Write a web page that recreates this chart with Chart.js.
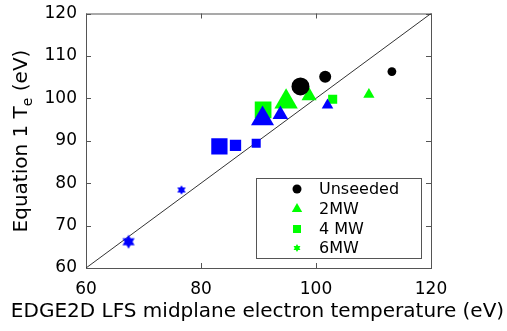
<!DOCTYPE html>
<html>
<head>
<meta charset="utf-8">
<script src="https://cdn.jsdelivr.net/npm/chart.js@4/dist/chart.umd.min.js"></script>
<style>
  body { margin: 0; background: #fff; }
  #wrap { width: 507px; height: 331px; }
</style>
</head>
<body>
<div id="wrap"><canvas id="teChart" width="507" height="331"></canvas></div>
<script>
// values
const unseededX = [97.3, 101.6, 113.2];
const unseededY = [102.8, 105.1, 106.3];

const mw2X = [94.8, 98.8, 109.2];
const mw2Y = [99.2, 100.6, 100.9];

const mw4X = [90.8, 102.9];
const mw4Y = [97.3, 99.8];

// blue markers (second case, same shape coding)
const blueTriX = [90.7, 93.8, 102.0];
const blueTriY = [95.2, 96.2, 98.4];
const blueSqX = [83.2, 86.0, 89.6];
const blueSqY = [88.7, 88.9, 89.4];
const blueStarX = [67.4, 76.6];
const blueStarY = [66.2, 78.4];

const xTicks = [60, 80, 100, 120];
const yTicks = [60, 70, 80, 90, 100, 110, 120];
const legendNames = ['Unseeded', '2MW', '4 MW', '6MW'];

const GREEN = '#00ff00';
const BLUE = '#0000ff';
const FONT = '"DejaVu Sans", sans-serif';

function toPoints(xs, ys) {
  return xs.map((x, i) => ({ x: x, y: ys[i] }));
}

// six point star (two triangles)
function starPath(ctx, x, y, r) {
  ctx.beginPath();
  for (let k = 0; k < 2; k++) {
    const off = k === 0 ? -Math.PI / 2 : Math.PI / 2;
    for (let j = 0; j < 3; j++) {
      const a = off + j * 2 * Math.PI / 3;
      const px = x + r * Math.cos(a), py = y + r * Math.sin(a);
      if (j === 0) ctx.moveTo(px, py); else ctx.lineTo(px, py);
    }
    ctx.closePath();
  }
}

function makeStar(r, color) {
  const c = document.createElement('canvas');
  const s = Math.ceil(2 * r + 2);
  c.width = s; c.height = s;
  const g = c.getContext('2d');
  g.fillStyle = color;
  starPath(g, s / 2, s / 2, r);
  g.fill('nonzero');
  return c;
}

function drawMarker(ctx, style, x, y, r, color) {
  ctx.fillStyle = color;
  if (style === 'circle') {
    ctx.beginPath(); ctx.arc(x, y, r, 0, Math.PI * 2); ctx.fill();
  } else if (style === 'triangle') {
    ctx.beginPath();
    ctx.moveTo(x, y - r);
    ctx.lineTo(x + r * 0.866, y + r * 0.5);
    ctx.lineTo(x - r * 0.866, y + r * 0.5);
    ctx.closePath(); ctx.fill();
  } else if (style === 'rect') {
    ctx.fillRect(x - r, y - r, 2 * r, 2 * r);
  } else {
    starPath(ctx, x, y, r); ctx.fill();
  }
}

const framePlugin = {
  id: 'frame',
  beforeDatasetsDraw(chart) {
    const ctx = chart.ctx;
    const a = chart.chartArea;
    const xs = chart.scales.x, ys = chart.scales.y;
    ctx.save();
    ctx.strokeStyle = '#555';
    ctx.lineWidth = 1;
    ctx.strokeRect(a.left + 0.5, a.top + 0.5, a.right - a.left, a.bottom - a.top);
    ctx.beginPath();
    xTicks.forEach(v => {
      const px = Math.round(xs.getPixelForValue(v)) + 0.5;
      ctx.moveTo(px, a.bottom); ctx.lineTo(px, a.bottom - 5);
      ctx.moveTo(px, a.top); ctx.lineTo(px, a.top + 5);
    });
    yTicks.forEach(v => {
      const py = Math.round(ys.getPixelForValue(v)) + 0.5;
      ctx.moveTo(a.left, py); ctx.lineTo(a.left + 5, py);
      ctx.moveTo(a.right, py); ctx.lineTo(a.right - 5, py);
    });
    ctx.stroke();
    ctx.restore();
  },
  afterDraw(chart) {
    const ctx = chart.ctx;
    const a = chart.chartArea;
    ctx.save();
    ctx.fillStyle = '#000';
    // x axis title
    ctx.font = '20px ' + FONT;
    ctx.textAlign = 'center';
    ctx.textBaseline = 'middle';
    ctx.fillText('EDGE2D LFS midplane electron temperature (eV)', (a.left + a.right) / 2 - 1, 312);

    // y axis title with subscript
    ctx.translate(20, 141);
    ctx.rotate(-Math.PI / 2);
    ctx.textBaseline = 'alphabetic';
    ctx.textAlign = 'left';
    const p1 = 'Equation 1 T', p2 = 'e', p3 = ' (eV)';
    ctx.font = '20px ' + FONT;
    const w1 = ctx.measureText(p1).width, w3 = ctx.measureText(p3).width;
    ctx.font = '14px ' + FONT;
    const w2 = ctx.measureText(p2).width;
    let x0 = -(w1 + w2 + w3) / 2;
    const base = 7;
    ctx.font = '20px ' + FONT;
    ctx.fillText(p1, x0, base);
    ctx.font = '14px ' + FONT;
    ctx.fillText(p2, x0 + w1, base + 5);
    ctx.font = '20px ' + FONT;
    ctx.fillText(p3, x0 + w1 + w2, base);
    ctx.restore();

    // legend box
    ctx.save();
    const lx = 256, ly = 178, lw = 165, lh = 80;
    ctx.fillStyle = '#fff';
    ctx.fillRect(lx, ly, lw, lh);
    ctx.strokeStyle = '#555';
    ctx.lineWidth = 1;
    ctx.strokeRect(lx + 0.5, ly + 0.5, lw, lh);
    const rows = [189, 209, 229, 248];
    const styles = ['circle', 'triangle', 'rect', 'star'];
    const colors = ['#000', GREEN, GREEN, GREEN];
    const sizes = [4.5, 6, 4, 4];
    ctx.font = '16px ' + FONT;
    ctx.textBaseline = 'middle';
    ctx.textAlign = 'left';
    legendNames.forEach((name, i) => {
      drawMarker(ctx, styles[i], 297, rows[i], sizes[i], colors[i]);
      ctx.fillStyle = '#000';
      ctx.fillText(name, 319, rows[i] + 1);
    });
    ctx.restore();
  }
};

const ctx = document.getElementById('teChart').getContext('2d');

new Chart(ctx, {
  type: 'scatter',
  data: {
    datasets: [
      {
        label: 'Unseeded',
        data: toPoints(unseededX, unseededY),
        pointStyle: 'circle',
        pointRadius: [9, 6, 4.4],
        backgroundColor: '#000',
        borderWidth: 0
      },
      {
        label: 'Blue triangles',
        data: toPoints(blueTriX, blueTriY),
        pointStyle: 'triangle',
        pointRadius: [13.3, 9, 6.7],
        backgroundColor: BLUE,
        borderWidth: 0
      },
      {
        label: 'Blue squares',
        data: toPoints(blueSqX, blueSqY),
        pointStyle: 'rect',
        pointRadius: [11.5, 8, 6.4],
        backgroundColor: BLUE,
        borderWidth: 0
      },
      {
        label: 'Blue stars',
        data: toPoints(blueStarX, blueStarY),
        pointStyle: [makeStar(7, BLUE), makeStar(4.8, BLUE)],
        pointRadius: 6,
        backgroundColor: BLUE,
        borderWidth: 0
      },
      {
        label: '2MW',
        data: toPoints(mw2X, mw2Y),
        pointStyle: 'triangle',
        pointRadius: [13.5, 8.7, 6.5],
        backgroundColor: GREEN,
        borderWidth: 0
      },
      {
        label: '4 MW',
        data: toPoints(mw4X, mw4Y),
        pointStyle: 'rect',
        pointRadius: [11.8, 6.4],
        backgroundColor: GREEN,
        borderWidth: 0
      },
      {
        label: 'y = x',
        type: 'line',
        data: [{ x: 60, y: 60 }, { x: 120, y: 120 }],
        borderColor: '#333',
        borderWidth: 1,
        pointRadius: 0,
        fill: false
      }
    ]
  },
  options: {
    responsive: false,
    animation: false,
    layout: { padding: { left: 0, right: 76, top: 10, bottom: 0 } },
    plugins: {
      legend: { display: false },
      tooltip: { enabled: false }
    },
    scales: {
      x: {
        type: 'linear',
        min: 60,
        max: 120,
        afterBuildTicks: (scale) => { scale.ticks = xTicks.map(v => ({ value: v })); },
        afterFit: (scale) => {
          scale.height = 63;
          scale.paddingLeft = 0; scale.paddingRight = 0;
        },
        grid: { display: false, drawTicks: false },
        border: { display: false },
        ticks: { color: '#000', padding: 11, font: { family: FONT, size: 17 }, maxRotation: 0 }
      },
      y: {
        type: 'linear',
        min: 60,
        max: 120,
        afterBuildTicks: (scale) => { scale.ticks = yTicks.map(v => ({ value: v })); },
        afterFit: (scale) => {
          scale.width = 86;
          scale.paddingTop = 0; scale.paddingBottom = 0;
        },
        grid: { display: false, drawTicks: false },
        border: { display: false },
        ticks: { color: '#000', padding: 9, font: { family: FONT, size: 17 } }
      }
    }
  },
  plugins: [framePlugin]
});
</script>
</body>
</html>
